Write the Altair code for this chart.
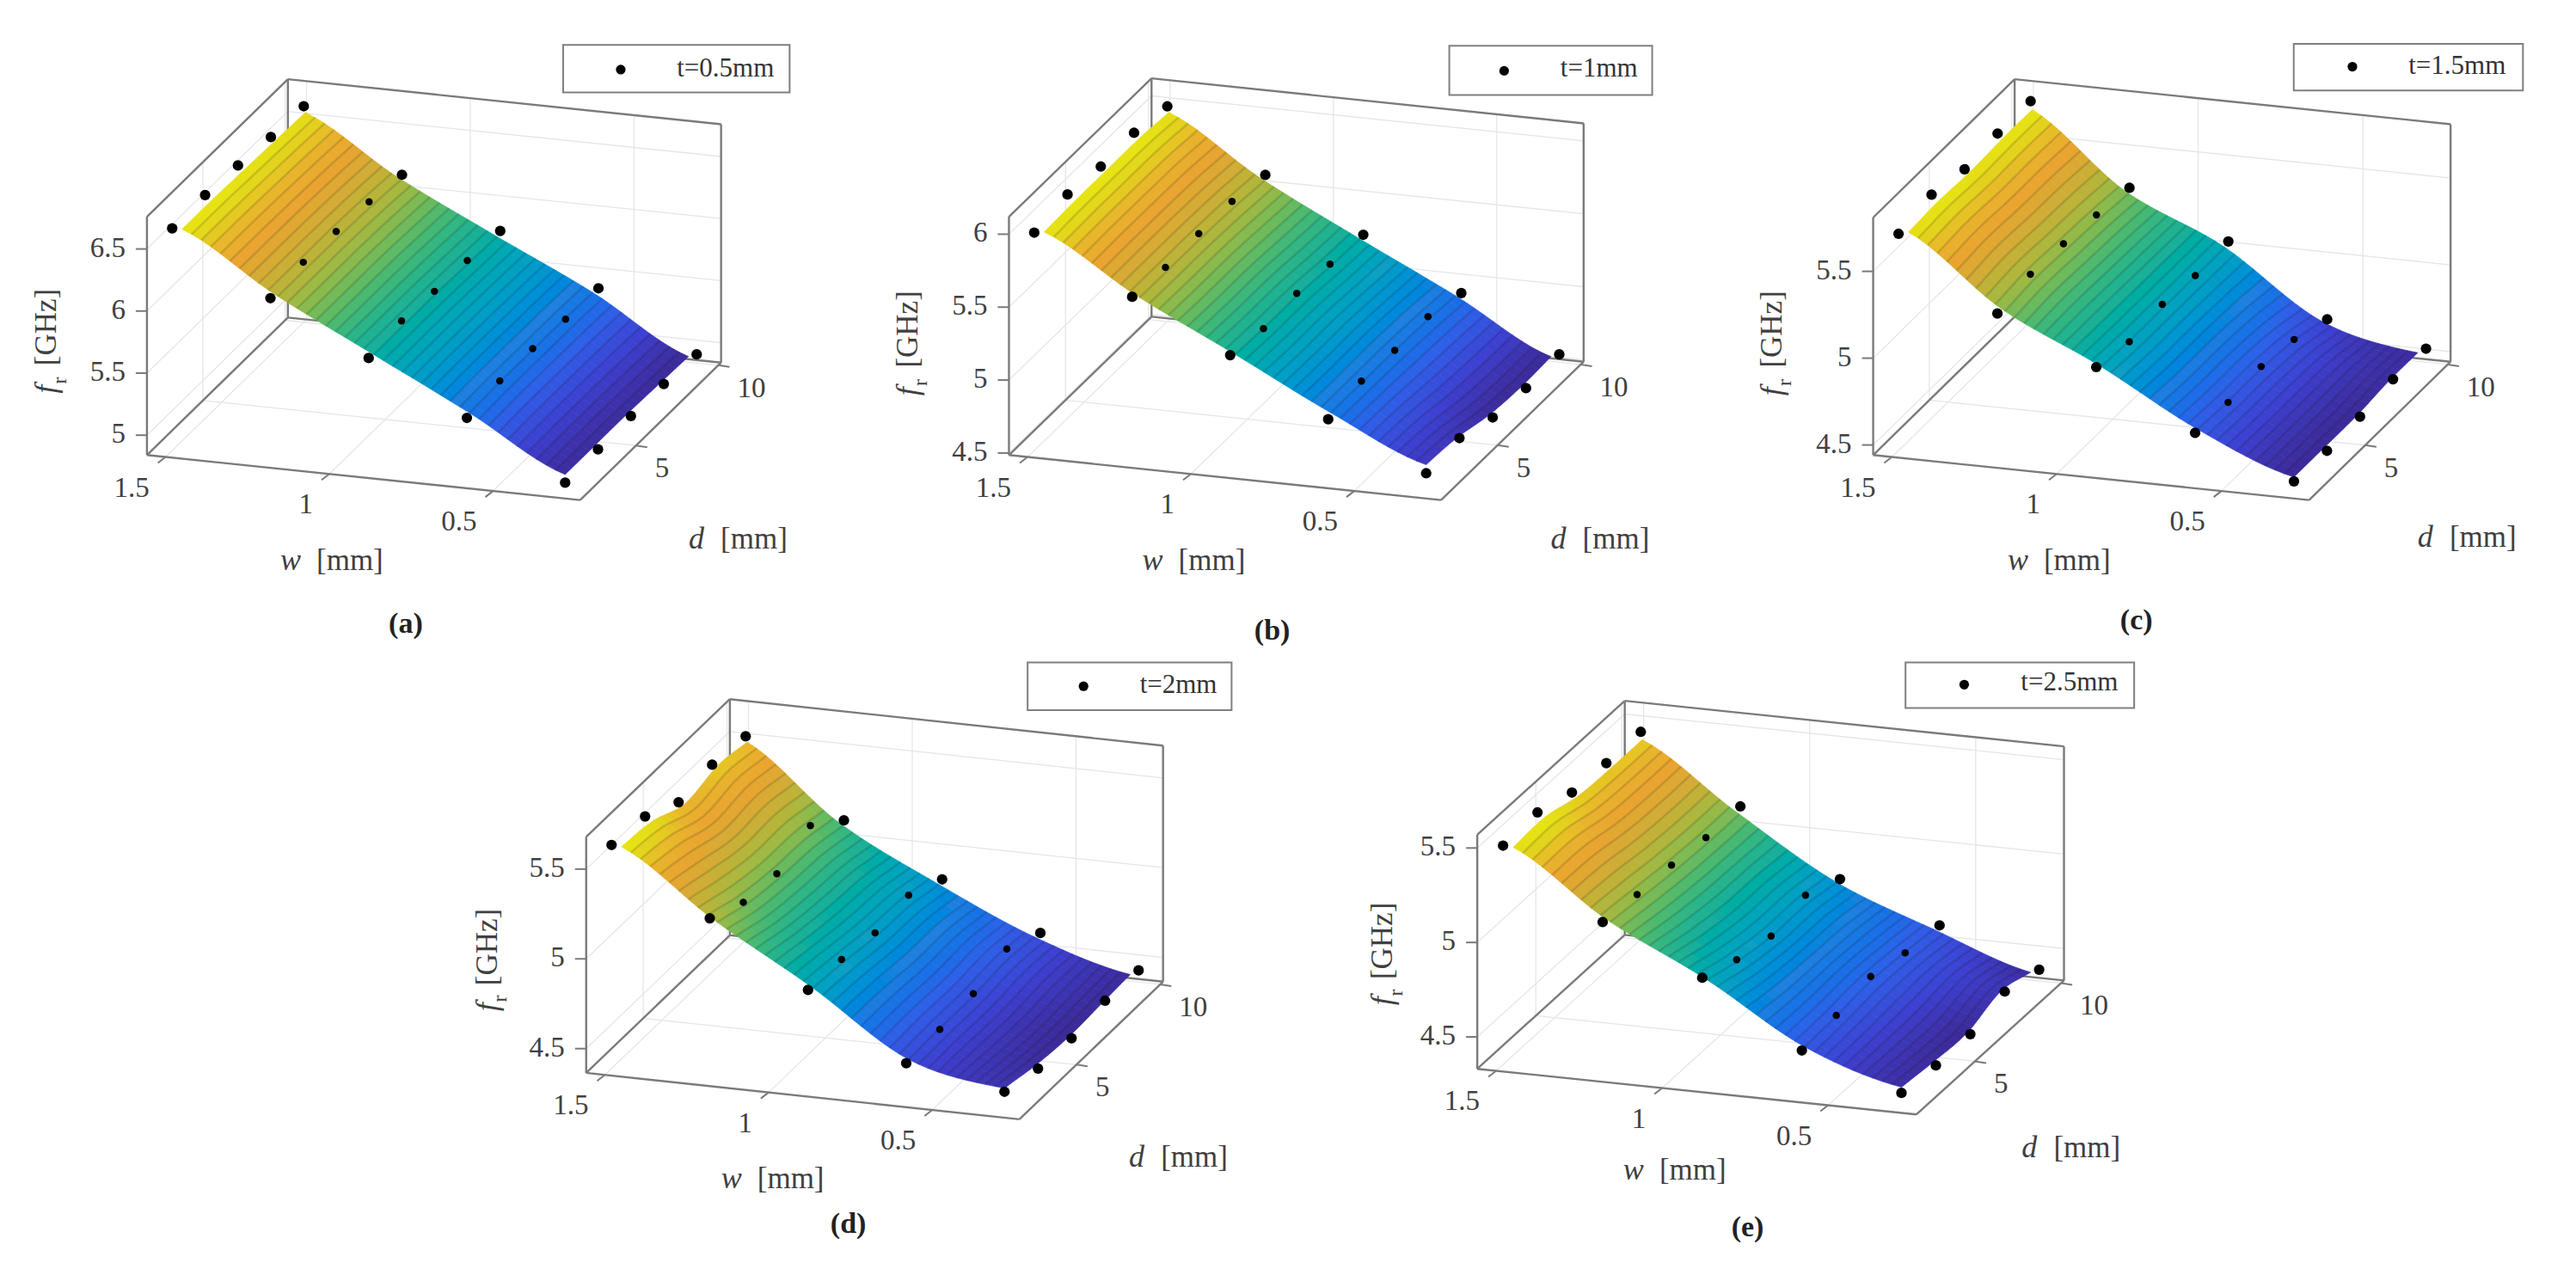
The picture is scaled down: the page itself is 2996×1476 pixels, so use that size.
import altair as alt
import pandas as pd

alt.data_transformers.disable_max_rows()

# ---- values: f_r [GHz], rows w = 1.5 .. 0.3, columns d = 2 .. 10
w_values = [1.5, 1.2, 0.9, 0.6, 0.3]
d_values = [2, 4, 6, 8, 10]
# measured points
f_a = [[6.63, 6.64, 6.62, 6.59, 6.58],
       [6.15, 6.18, 6.17, 6.15, 6.11],
       [5.75, 5.79, 5.77, 5.76, 5.74],
       [5.35, 5.39, 5.39, 5.37, 5.36],
       [4.91, 4.92, 4.93, 4.93, 4.91]]
f_b = [[5.98, 6.02, 5.99, 6.00, 5.96],
       [5.61, 5.59, 5.60, 5.60, 5.56],
       [5.28, 5.24, 5.26, 5.24, 5.22],
       [4.91, 4.95, 4.94, 4.95, 4.89],
       [4.61, 4.63, 4.55, 4.53, 4.54]]
f_c = [[5.69, 5.73, 5.69, 5.71, 5.71],
       [5.29, 5.33, 5.32, 5.30, 5.27],
       [5.04, 5.00, 5.03, 5.01, 5.02],
       [4.72, 4.71, 4.73, 4.70, 4.63],
       [4.50, 4.49, 4.50, 4.53, 4.52]]
f_d = [[5.61, 5.59, 5.49, 5.52, 5.50],
       [5.26, 5.17, 5.15, 5.24, 5.09],
       [4.92, 4.91, 4.88, 4.91, 4.82],
       [4.57, 4.58, 4.60, 4.67, 4.58],
       [4.47, 4.42, 4.41, 4.44, 4.43]]
f_e = [[5.49, 5.50, 5.44, 5.43, 5.43],
       [5.14, 5.12, 5.11, 5.09, 5.09],
       [4.90, 4.83, 4.79, 4.84, 4.76],
       [4.57, 4.59, 4.63, 4.59, 4.57],
       [4.40, 4.38, 4.38, 4.44, 4.39]]
# fitted surfaces, read at the same grid positions
s_a = [[6.62, 6.62, 6.61, 6.60, 6.59],
       [6.16, 6.16, 6.16, 6.15, 6.13],
       [5.76, 5.76, 5.76, 5.75, 5.74],
       [5.36, 5.37, 5.37, 5.37, 5.36],
       [4.94, 4.94, 4.94, 4.93, 4.92]]
s_b = [[5.98, 5.99, 5.99, 5.99, 5.97],
       [5.60, 5.60, 5.60, 5.59, 5.57],
       [5.27, 5.26, 5.26, 5.24, 5.23],
       [4.93, 4.93, 4.93, 4.92, 4.90],
       [4.64, 4.62, 4.56, 4.54, 4.55]]
s_c = [[5.70, 5.71, 5.70, 5.71, 5.71],
       [5.30, 5.32, 5.31, 5.30, 5.28],
       [5.03, 5.02, 5.02, 5.02, 5.02],
       [4.72, 4.71, 4.71, 4.69, 4.64],
       [4.50, 4.50, 4.50, 4.52, 4.52]]
s_d = [[5.60, 5.58, 5.50, 5.54, 5.51],
       [5.24, 5.18, 5.15, 5.14, 5.10],
       [4.92, 4.90, 4.87, 4.86, 4.82],
       [4.57, 4.58, 4.58, 4.60, 4.58],
       [4.47, 4.43, 4.41, 4.42, 4.43]]
s_e = [[5.48, 5.49, 5.44, 5.43, 5.43],
       [5.14, 5.12, 5.10, 5.09, 5.09],
       [4.88, 4.83, 4.80, 4.80, 4.77],
       [4.57, 4.58, 4.60, 4.59, 4.57],
       [4.41, 4.39, 4.38, 4.44, 4.39]]
legend_labels = ["t=0.5mm", "t=1mm", "t=1.5mm", "t=2mm", "t=2.5mm"]
captions = ["(a)", "(b)", "(c)", "(d)", "(e)"]
f_ticks = [[5, 5.5, 6, 6.5], [4.5, 5, 5.5, 6], [4.5, 5, 5.5], [4.5, 5, 5.5], [4.5, 5, 5.5]]
f_tick_labels = [["5", "5.5", "6", "6.5"], ["4.5", "5", "5.5", "6"], ["4.5", "5", "5.5"],
                 ["4.5", "5", "5.5"], ["4.5", "5", "5.5"]]
w_ticks = [1.5, 1.0, 0.5]
w_tick_labels = ["1.5", "1", "0.5"]
d_ticks = [5, 10]
d_tick_labels = ["5", "10"]

parula = ["#3a2a96", "#3d3fcf", "#2e60e8", "#1f80df", "#109fc4", "#18ae9c",
          "#4db96e", "#a8b840", "#d2ac36", "#e9a430", "#e8b42c", "#e2d41c", "#e8e810"]
parula_stops = [0, .1, .2, .3, .4, .5, .6, .7, .78, .85, .91, .96, 1]

# ---- layout of each 3-D box
KX = 1 / 1.568
KY_TOP = 760 / 1568
KY_BOTTOM = 736 / 1568
W_LIM = (1.557, 0.234)
D_LIM = (1.6, 10.17)
SURF_W = (1.48, 0.31)
SURF_D = (2.2, 9.7)
panels = [
    dict(off=(0, 0), ky=KY_TOP, fl=(268, 1092), fr=(1058, 1200), r=(1315, 870), H=572, fl_=(4.84, 6.76),
         legend=(1027, 108, 1440, 222), ldot=(1132, 167), ltext=(1323, 165),
         wT=(608, 1345), dT=(1348, 1293), fT=(85, 810), cap=(740, 1498)),
    dict(off=(1000, 0), ky=KY_TOP, fl=(272, 1092), fr=(1060, 1200), r=(1320, 868), H=572, fl_=(4.486, 6.12),
         legend=(1075, 110, 1445, 228), ldot=(1175, 170), ltext=(1348, 165),
         wT=(612, 1345), dT=(1352, 1293), fT=(88, 815), cap=(752, 1515)),
    dict(off=(2000, 0), ky=KY_TOP, fl=(280, 1092), fr=(1075, 1200), r=(1333, 868), H=570, fl_=(4.442, 5.81),
         legend=(1047, 105, 1465, 217), ldot=(1154, 160), ltext=(1345, 158),
         wT=(622, 1345), dT=(1365, 1290), fT=(95, 815), cap=(760, 1490)),
    dict(off=(500, 740), ky=KY_BOTTOM, fl=(285, 1082), fr=(1075, 1197), r=(1337, 856), H=585, fl_=(4.365, 5.68),
         legend=(1090, 65, 1462, 183), ldot=(1192, 124), ltext=(1365, 122),
         wT=(628, 1345), dT=(1367, 1290), fT=(105, 795), cap=(763, 1458)),
    dict(off=(1500, 740), ky=KY_BOTTOM, fl=(342, 1072), fr=(1143, 1185), r=(1412, 853), H=580, fl_=(4.331, 5.57),
         legend=(1123, 65, 1540, 178), ldot=(1230, 120), ltext=(1422, 115),
         wT=(705, 1322), dT=(1427, 1268), fT=(170, 780), cap=(835, 1465)),
]
tables = [f_a, f_b, f_c, f_d, f_e]
surfaces = [s_a, s_b, s_c, s_d, s_e]


def catmull(p, t):
    """Smooth curve through the knots p, like a line mark's spline interpolation."""
    n = len(p)
    i = min(int(t), n - 2)
    s = t - i
    p0 = p[max(i - 1, 0)]
    p1, p2 = p[i], p[i + 1]
    p3 = p[min(i + 2, n - 1)]
    return 0.5 * (2 * p1 + (p2 - p0) * s + (2 * p0 - 5 * p1 + 4 * p2 - p3) * s * s
                  + (3 * p1 - p0 - 3 * p2 + p3) * s ** 3)


def surf(table, w, d):
    u = (1.5 - w) / 0.3
    v = (d - 2) / 2.0
    return catmull([catmull(row, v) for row in table], u)


def projector(pn):
    ox, oy = pn["off"]
    ky = pn["ky"]
    fx, fy = pn["fl"]
    ax, ay = pn["fr"][0] - fx, pn["fr"][1] - fy
    bx, by = pn["r"][0] - pn["fr"][0], pn["r"][1] - pn["fr"][1]
    f0, f1 = pn["fl_"]

    def P(w, d, f):
        a = (W_LIM[0] - w) / (W_LIM[0] - W_LIM[1])
        b = (d - D_LIM[0]) / (D_LIM[1] - D_LIM[0])
        c = (f - f0) / (f1 - f0)
        return (ox + KX * (fx + a * ax + b * bx), oy + ky * (fy + a * ay + b * by - c * pn["H"]))
    return P


def Z(pn, z):
    return (pn["off"][0] + KX * z[0], pn["off"][1] + pn["ky"] * z[1])


grid, box, ticks, texts, dots, quads, stripes, legends = [], [], [], [], [], [], [], []
NW, ND = 40, 20


def seg(store, a, b):
    store.append(dict(x=a[0], y=a[1], x2=b[0], y2=b[1]))


def text(store, pos, s, style):
    store.append(dict(x=pos[0], y=pos[1], s=s, style=style))


for idx, (pn, table, stable) in enumerate(zip(panels, tables, surfaces)):
    P = projector(pn)
    f0, f1 = pn["fl_"]
    wl, wr = W_LIM
    d0, d1 = D_LIM
    # walls
    for ft in f_ticks[idx]:
        seg(grid, P(wl, d0, ft), P(wl, d1, ft))
        seg(grid, P(wl, d1, ft), P(wr, d1, ft))
    for wt in w_ticks:
        seg(grid, P(wt, d0, f0), P(wt, d1, f0))
        seg(grid, P(wt, d1, f0), P(wt, d1, f1))
    for dt in d_ticks:
        seg(grid, P(wl, dt, f0), P(wr, dt, f0))
        seg(grid, P(wl, dt, f0), P(wl, dt, f1))
    # box
    for a, b in [((wl, d0, f0), (wr, d0, f0)), ((wr, d0, f0), (wr, d1, f0)),
                 ((wl, d0, f0), (wl, d0, f1)), ((wl, d0, f1), (wl, d1, f1)),
                 ((wl, d1, f1), (wr, d1, f1)), ((wr, d1, f1), (wr, d1, f0)),
                 ((wl, d1, f0), (wl, d1, f1)), ((wl, d1, f0), (wl, d0, f0)),
                 ((wl, d1, f0), (wr, d1, f0))]:
        seg(box, P(*a), P(*b))
    # ticks and tick labels
    for ft, lab in zip(f_ticks[idx], f_tick_labels[idx]):
        p = P(wl, d0, ft)
        seg(ticks, p, (p[0] - 13, p[1]))
        text(texts, (p[0] - 25, p[1] - 1), lab, "tick_r")
    for wt, lab in zip(w_ticks, w_tick_labels):
        p = P(wt, d0, f0)
        seg(ticks, p, (p[0] - 9, p[1] + 7))
        text(texts, (p[0] - 19, p[1] + 36), lab, "tick_r")
    for dt, lab in zip(d_ticks, d_tick_labels):
        p = P(wr, dt, f0)
        seg(ticks, p, (p[0] + 13, p[1] + 2))
        text(texts, (p[0] + 22, p[1] + 27), lab, "tick_l")
    # surface
    grid_w = [SURF_W[0] + (SURF_W[1] - SURF_W[0]) * i / NW for i in range(NW + 1)]
    grid_d = [SURF_D[0] + (SURF_D[1] - SURF_D[0]) * j / ND for j in range(ND + 1)]
    vals = [surf(stable, w, d) for w in grid_w for d in grid_d]
    lo, hi = min(vals), max(vals)
    for i in range(NW):
        for j in range(ND):
            corners = [(i, j), (i + 1, j), (i + 1, j + 1), (i, j + 1)]
            fs = [surf(stable, grid_w[a], grid_d[b]) for a, b in corners]
            pts = [P(grid_w[a], grid_d[b], f) for (a, b), f in zip(corners, fs)]
            ring = [[p[0] - 8, p[1] - 8] for p in pts]
            ring.append(ring[0])
            quads.append(dict(type="Feature",
                              geometry=dict(type="Polygon", coordinates=[ring]),
                              properties=dict(t=(sum(fs) / 4 - lo) / (hi - lo))))
    for i in range(1, NW):
        for j in range(ND + 1):
            p = P(grid_w[i], grid_d[j], surf(stable, grid_w[i], grid_d[j]))
            stripes.append(dict(x=p[0], y=p[1], line=f"{idx}-{i}", order=j))
    # measured points
    for i, w in enumerate(w_values):
        for j, d in enumerate(d_values):
            p = P(w, d, table[i][j])
            edge = i in (0, 4) or j in (0, 4)
            dots.append(dict(x=p[0], y=p[1], kind="edge" if edge else "inner"))
    # legend
    L = pn["legend"]
    a, b = Z(pn, L[:2]), Z(pn, L[2:])
    legends.append(dict(x=a[0], y=a[1], x2=b[0], y2=b[1]))
    ld = Z(pn, pn["ldot"])
    dots.append(dict(x=ld[0], y=ld[1], kind="legend"))
    text(texts, Z(pn, pn["ltext"]), legend_labels[idx], "legend")
    # titles
    tx, ty = pn["wT"]
    text(texts, Z(pn, (tx - 78, ty)), "w", "italic")
    text(texts, Z(pn, (tx + 30, ty)), "[mm]", "title")
    tx, ty = pn["dT"]
    text(texts, Z(pn, (tx - 78, ty)), "d", "italic")
    text(texts, Z(pn, (tx + 27, ty)), "[mm]", "title")
    tx, ty = pn["fT"]
    text(texts, Z(pn, (tx, ty + 124)), "f", "rot_italic")
    text(texts, Z(pn, (tx + 24, ty + 103)), "r", "rot_small")
    text(texts, Z(pn, (tx, ty - 25)), "[GHz]", "rot")
    text(texts, Z(pn, pn["cap"]), captions[idx], "caption")

# ---- the whole page is one plot whose scales run in the reference's page units
X = alt.X("x:Q", scale=alt.Scale(domain=[8, 2988]), axis=None)
Y = alt.Y("y:Q", scale=alt.Scale(domain=[1468, 8]), axis=None)
X2 = alt.X2("x2:Q")
Y2 = alt.Y2("y2:Q")
color_scale = alt.Scale(domain=parula_stops, range=parula)


def rules(rows, color, width):
    return alt.Chart(pd.DataFrame(rows)).mark_rule(color=color, strokeWidth=width).encode(
        x=X, y=Y, x2=X2, y2=Y2)


def texts_layer(style, **kw):
    rows = [t for t in texts if t["style"] == style]
    base = dict(font="Liberation Serif", baseline="middle", color="#404040")
    base.update(kw)
    return alt.Chart(pd.DataFrame(rows)).mark_text(**base).encode(x=X, y=Y, text="s:N")


surface = alt.Chart(alt.Data(values=quads)).mark_geoshape(strokeWidth=0.7).encode(
    color=alt.Color("properties.t:Q", scale=color_scale, legend=None),
    stroke=alt.Stroke("properties.t:Q", scale=color_scale, legend=None),
).project(type="identity", scale=1, translate=[0, 0])

stripe_lines = alt.Chart(pd.DataFrame(stripes)).mark_line(
    color="#000000", strokeWidth=2.6, opacity=0.13).encode(
    x=X, y=Y, detail="line:N", order="order:Q")


def dot_layer(kind, size):
    rows = [d for d in dots if d["kind"] == kind]
    return alt.Chart(pd.DataFrame(rows)).mark_point(
        filled=True, color="#000000", size=size, opacity=1).encode(x=X, y=Y)


legend_boxes = alt.Chart(pd.DataFrame(legends)).mark_rect(
    fill="#ffffff", stroke="#7f7f7f", strokeWidth=2).encode(x=X, y=Y, x2=X2, y2=Y2)

chart = alt.layer(
    rules(grid, "#e6e6e6", 1.3),
    rules(box, "#7a7a7a", 2.4),
    rules(ticks, "#7a7a7a", 2),
    surface,
    stripe_lines,
    dot_layer("inner", 72),
    dot_layer("edge", 150),
    legend_boxes,
    dot_layer("legend", 125),
    texts_layer("tick_r", align="right", fontSize=33),
    texts_layer("tick_l", align="left", fontSize=33),
    texts_layer("legend", align="center", fontSize=31, color="#333333"),
    texts_layer("title", align="center", fontSize=35),
    texts_layer("italic", align="center", fontSize=36, fontStyle="italic"),
    texts_layer("rot", align="center", fontSize=35, angle=270),
    texts_layer("rot_italic", align="center", fontSize=36, fontStyle="italic", angle=270),
    texts_layer("rot_small", align="center", fontSize=24, angle=270),
    texts_layer("caption", align="center", fontSize=34, fontWeight="bold", color="#222222"),
).properties(width=2980, height=1460, padding=0, autosize=alt.AutoSizeParams(type="none")
).configure_view(stroke=None)

chart.save("out.html", embed_options={"renderer": "svg", "actions": False})
